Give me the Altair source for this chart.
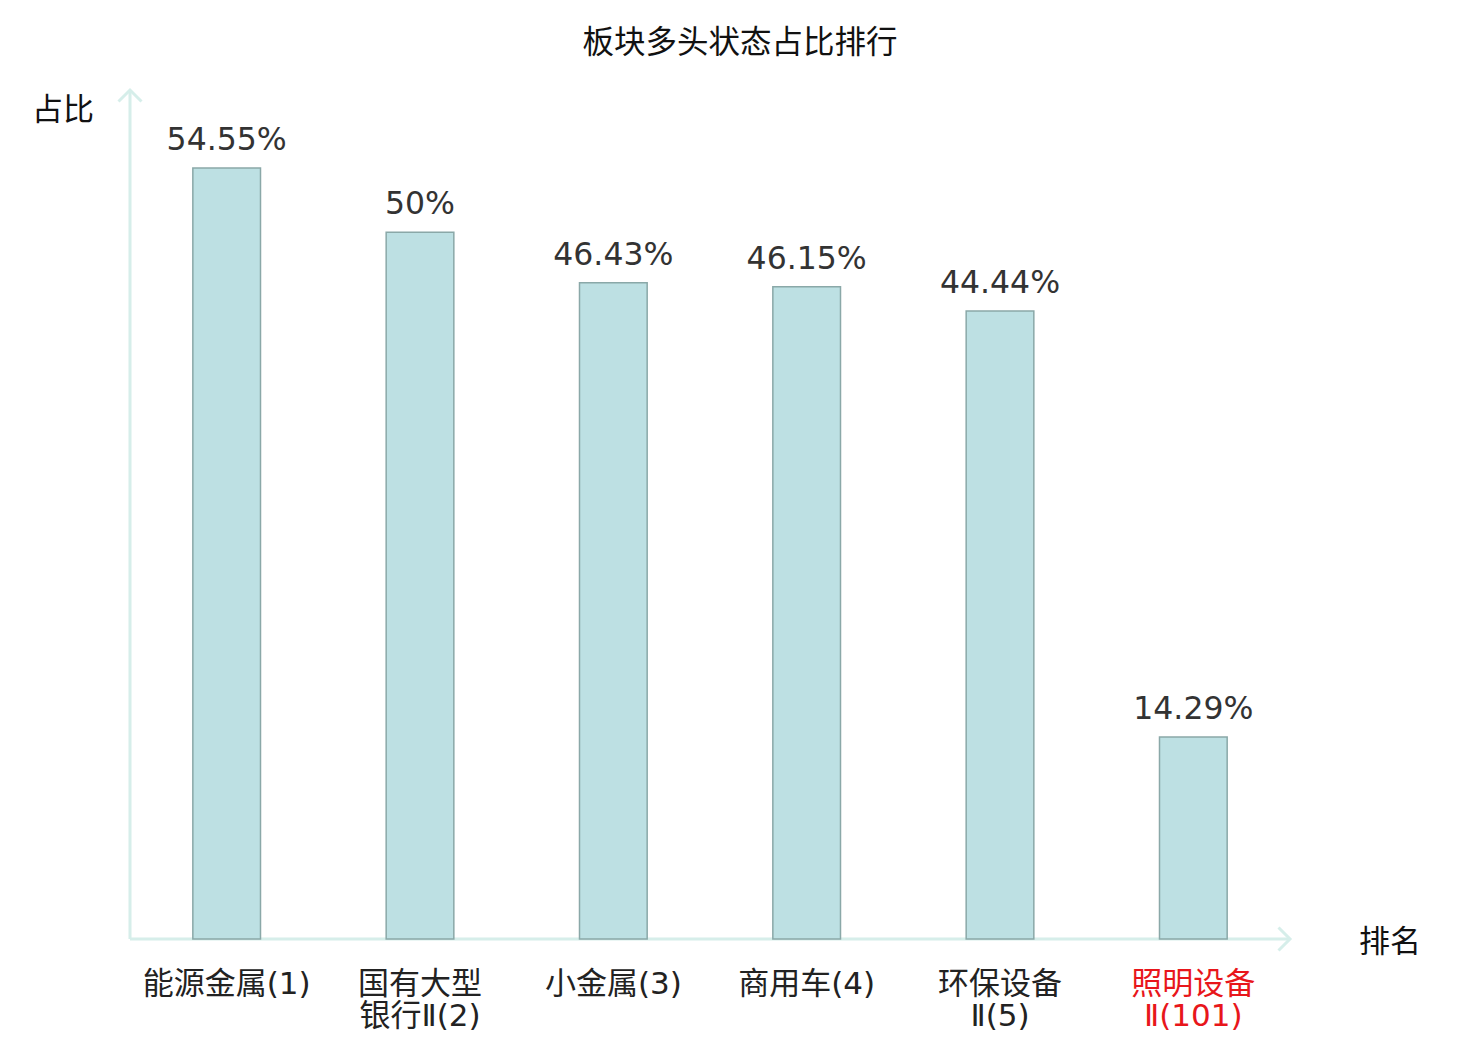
import altair as alt
import pandas as pd

title_text = "板块多头状态占比排行"
names = ["能源金属", "国有大型\n银行Ⅱ", "小金属", "商用车", "环保设备\nⅡ", "照明设备\nⅡ"]
ranks = [1, 2, 3, 4, 5, 101]
values = [54.55, 50, 46.43, 46.15, 44.44, 14.29]
y_title = "占比"
x_title = "排名"

df = pd.DataFrame({"name": names, "rank": ranks, "value": values})
df["label"] = [f"{n}({r})" for n, r in zip(names, ranks)]
df["vlabel"] = [f"{v:g}%" for v in values]

W, H = 1160, 848
AXIS_COLOR = "#d6eeea"
CJK = "Noto Sans CJK SC"
MIXED = "DejaVu Sans, Noto Sans CJK SC"

xs = alt.X("label:N", sort=None, axis=None,
           scale=alt.Scale(paddingInner=0.65, paddingOuter=0.325))
ys = alt.Y("value:Q", axis=None, scale=alt.Scale(domain=[0, 60]))

base = alt.Chart(df)
bars = base.mark_bar(fill="#bde0e3", stroke="#8aa8a8", strokeWidth=1.5).encode(x=xs, y=ys)
vals = base.mark_text(font="DejaVu Sans", fontSize=31.5, color="#333333",
                      baseline="alphabetic", dy=-18).encode(x=xs, y=ys, text="vlabel:N")
cats = base.mark_text(font=MIXED, fontSize=31, baseline="top", lineBreak="\n",
                      lineHeight=32).encode(
    x=xs, y=alt.value(H + 31), text="label:N",
    color=alt.condition("datum.rank > 5", alt.value("#e8161b"), alt.value("#222222")))

one = pd.DataFrame({"a": [0]})
yaxis = alt.Chart(one).mark_rule(color=AXIS_COLOR, strokeWidth=3).encode(
    x=alt.value(0), y=alt.value(-1), y2=alt.value(H))
xaxis = alt.Chart(one).mark_rule(color=AXIS_COLOR, strokeWidth=3).encode(
    x=alt.value(0), x2=alt.value(W), y=alt.value(H))
arrow_up = alt.Chart(one).mark_point(shape="M-1,1L0,0L1,1", size=529, filled=False,
                                     color=AXIS_COLOR, strokeWidth=3, opacity=1).encode(
    x=alt.value(0), y=alt.value(-1))
arrow_right = alt.Chart(one).mark_point(shape="M-1,-1L0,0L-1,1", size=529, filled=False,
                                        color=AXIS_COLOR, strokeWidth=3, opacity=1).encode(
    x=alt.value(W), y=alt.value(H))

ttl = alt.Chart(one).mark_text(font=CJK, fontSize=31.5, color="#111111").encode(
    x=alt.value(610), y=alt.value(-47), text=alt.value(title_text))
ytl = alt.Chart(one).mark_text(font=CJK, fontSize=31, color="#111111").encode(
    x=alt.value(-67), y=alt.value(20), text=alt.value(y_title))
xtl = alt.Chart(one).mark_text(font=CJK, fontSize=31, color="#111111").encode(
    x=alt.value(1260), y=alt.value(H + 4), text=alt.value(x_title))

chart = alt.layer(yaxis, xaxis, arrow_up, arrow_right, bars, vals, cats, ttl, ytl, xtl).properties(
    width=W, height=H,
    padding={"left": 122, "top": 83, "right": 160, "bottom": 100},
    autosize="none",
).configure_view(stroke=None)

chart.save("out.html", embed_options={"renderer": "svg", "actions": False})
